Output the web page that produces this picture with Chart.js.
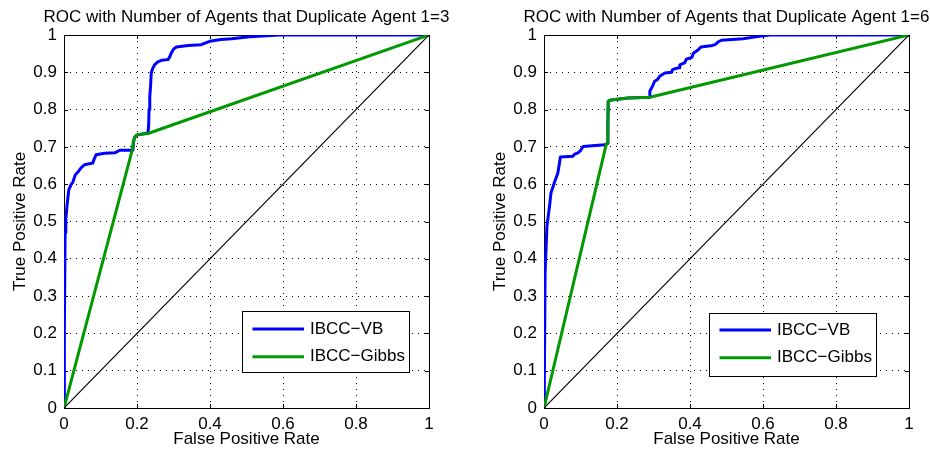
<!DOCTYPE html>
<html>
<head>
<meta charset="utf-8">
<script src="https://cdn.jsdelivr.net/npm/chart.js@4.4.1/dist/chart.umd.min.js"></script>
<style>
  body { margin: 0; background: #fff; }
  .panel { position: absolute; top: 0; width: 465px; height: 455px; }
</style>
</head>
<body>
<div class="panel" style="left:0"><canvas id="roc3" width="465" height="455"></canvas></div>
<div class="panel" style="left:465px"><canvas id="roc6" width="465" height="455"></canvas></div>
<script>
// values (false positive rate, true positive rate)
var vbFpr3 = [0, 0.001, 0.003, 0.005, 0.008, 0.013, 0.02, 0.024, 0.031, 0.04, 0.048, 0.056, 0.079, 0.083, 0.088, 0.111, 0.139, 0.153, 0.189, 0.19, 0.193, 0.2, 0.23, 0.232, 0.233, 0.235, 0.237, 0.239, 0.243, 0.248, 0.257, 0.267, 0.285, 0.29, 0.294, 0.3, 0.308, 0.34, 0.376, 0.399, 0.43, 0.459, 0.509, 0.591, 1];
var vbTpr3 = [0, 0.2, 0.47, 0.505, 0.54, 0.585, 0.6, 0.605, 0.625, 0.635, 0.645, 0.652, 0.657, 0.668, 0.679, 0.683, 0.684, 0.691, 0.691, 0.71, 0.725, 0.732, 0.737, 0.76, 0.8, 0.835, 0.86, 0.898, 0.91, 0.92, 0.928, 0.932, 0.934, 0.942, 0.952, 0.962, 0.968, 0.972, 0.974, 0.983, 0.988, 0.99, 0.995, 1, 1];
var gibbsFpr3 = [0, 0.187, 0.19, 0.195, 0.203, 0.23, 1];
var gibbsTpr3 = [0, 0.692, 0.715, 0.728, 0.733, 0.736, 1];

var vbFpr6 = [0, 0.001, 0.003, 0.008, 0.015, 0.019, 0.028, 0.038, 0.045, 0.079, 0.083, 0.093, 0.1, 0.107, 0.166, 0.172, 0.174, 0.175, 0.176, 0.184, 0.23, 0.288, 0.29, 0.297, 0.303, 0.31, 0.318, 0.331, 0.35, 0.352, 0.36, 0.37, 0.372, 0.385, 0.39, 0.405, 0.41, 0.422, 0.43, 0.462, 0.47, 0.478, 0.486, 0.545, 0.58, 0.618, 1];
var vbTpr6 = [0, 0.08, 0.362, 0.487, 0.54, 0.576, 0.603, 0.63, 0.673, 0.675, 0.68, 0.684, 0.69, 0.701, 0.706, 0.708, 0.71, 0.76, 0.822, 0.826, 0.831, 0.833, 0.85, 0.862, 0.876, 0.88, 0.89, 0.898, 0.9, 0.907, 0.91, 0.912, 0.92, 0.925, 0.935, 0.94, 0.952, 0.96, 0.968, 0.972, 0.975, 0.982, 0.986, 0.99, 0.995, 1, 1];
var gibbsFpr6 = [0, 0.17, 0.174, 0.175, 0.176, 0.184, 0.23, 0.29, 1];
var gibbsTpr6 = [0, 0.705, 0.71, 0.76, 0.822, 0.826, 0.831, 0.833, 1];

var chanceFpr = [0, 1];
var chanceTpr = [0, 1];

var seriesNames = ['IBCC\u2212VB', 'IBCC\u2212Gibbs'];
var titles = ['ROC with Number of Agents that Duplicate Agent 1=3', 'ROC with Number of Agents that Duplicate Agent 1=6'];

Chart.defaults.font.family = '"Liberation Sans", Arial, sans-serif';
Chart.defaults.font.size = 17;
Chart.defaults.color = '#000';

var toPoints = function (xs, ys) {
    return xs.map(function (x, i) { return { x: x, y: ys[i] }; });
};

var fmt = function (v) { return String(+v.toFixed(1)); };

// box, inner tick marks, title and legend in the MATLAB look
var frame = {
    id: 'frame',
    beforeDatasetsDraw: function (chart) {
        var ctx = chart.ctx, a = chart.chartArea;
        var xs = chart.scales.x, ys = chart.scales.y;
        ctx.save();
        ctx.strokeStyle = '#000';
        ctx.lineWidth = 1;
        ctx.beginPath();
        xs.ticks.forEach(function (t) {
            var px = Math.round(xs.getPixelForValue(t.value)) + 0.5;
            ctx.moveTo(px, a.bottom); ctx.lineTo(px, a.bottom - 4);
            ctx.moveTo(px, a.top); ctx.lineTo(px, a.top + 4);
        });
        ys.ticks.forEach(function (t) {
            var py = Math.round(ys.getPixelForValue(t.value)) + 0.5;
            ctx.moveTo(a.left, py); ctx.lineTo(a.left + 4, py);
            ctx.moveTo(a.right, py); ctx.lineTo(a.right - 4, py);
        });
        ctx.stroke();
        ctx.strokeRect(Math.round(a.left) + 0.5, Math.round(a.top) + 0.5,
            Math.round(a.right - a.left), Math.round(a.bottom - a.top));
        ctx.restore();
    },
    afterDraw: function (chart, args, opts) {
        var ctx = chart.ctx, a = chart.chartArea;
        ctx.save();
        ctx.fillStyle = '#000';
        ctx.font = '17px "Liberation Sans", Arial, sans-serif';
        ctx.textAlign = 'center';
        ctx.textBaseline = 'alphabetic';
        ctx.fillText(opts.title, (a.left + a.right) / 2, 22);

        var bx = a.right - opts.legRight - opts.legW;
        var by = a.bottom - opts.legBottom - opts.legH;
        ctx.fillStyle = '#fff';
        ctx.fillRect(bx, by, opts.legW, opts.legH);
        ctx.strokeStyle = '#000';
        ctx.lineWidth = 1;
        ctx.strokeRect(Math.round(bx) + 0.5, Math.round(by) + 0.5, Math.round(opts.legW), Math.round(opts.legH));
        ctx.textAlign = 'left';
        ctx.textBaseline = 'middle';
        seriesNames.forEach(function (name, i) {
            var d = chart.data.datasets.find(function (s) { return s.label === name; });
            var ly = by + 17.5 + i * 27.8;
            ctx.strokeStyle = d.borderColor;
            ctx.lineWidth = 3;
            ctx.beginPath();
            ctx.moveTo(bx + 10.5, ly);
            ctx.lineTo(bx + 62, ly);
            ctx.stroke();
            ctx.fillStyle = '#000';
            ctx.fillText(d.label, bx + 68, ly);
        });
        ctx.restore();
    }
};

var makeRoc = function (id, vb, gibbs, opts) {
    var ctx = document.getElementById(id).getContext('2d');
    return new Chart(ctx, {
        type: 'line',
        data: {
            datasets: [
                { label: '', data: toPoints(chanceFpr, chanceTpr), borderColor: '#000', borderWidth: 1.2 },
                { label: seriesNames[1], data: gibbs, borderColor: '#009a00', borderWidth: 3 },
                { label: seriesNames[0], data: vb, borderColor: '#0000ff', borderWidth: 3 }
            ]
        },
        options: {
            responsive: false,
            devicePixelRatio: 1,
            animation: false,
            events: [],
            elements: { point: { radius: 0 }, line: { tension: 0, fill: false, borderJoinStyle: 'round' } },
            layout: { padding: opts.padding },
            scales: {
                x: {
                    type: 'linear', min: 0, max: 1,
                    ticks: { stepSize: 0.2, padding: 6, maxRotation: 0, callback: fmt },
                    grid: { color: '#000', lineWidth: 1, drawTicks: false },
                    border: { display: false, dash: [1, 5] },
                    title: { display: true, text: 'False Positive Rate', padding: { top: 0, bottom: 5 } },
                    afterFit: function (s) { s.height = 47; }
                },
                y: {
                    type: 'linear', min: 0, max: 1,
                    ticks: { stepSize: 0.1, padding: 7, callback: fmt },
                    grid: { color: '#000', lineWidth: 1, drawTicks: false },
                    border: { display: false, dash: [1, 5] },
                    title: { display: true, text: 'True Positive Rate', padding: { top: 10, bottom: 0 } },
                    afterFit: function (s) { s.width = 64; }
                }
            },
            plugins: {
                legend: { display: false },
                tooltip: { enabled: false },
                frame: opts.frame
            }
        },
        plugins: [frame]
    });
};

makeRoc('roc3', toPoints(vbFpr3, vbTpr3), toPoints(gibbsFpr3, gibbsTpr3), {
    padding: { top: 35, left: 0, right: 36, bottom: 0 },
    frame: { title: titles[0], legW: 167, legH: 61, legRight: 20, legBottom: 35.6 }
});
makeRoc('roc6', toPoints(vbFpr6, vbTpr6), toPoints(gibbsFpr6, gibbsTpr6), {
    padding: { top: 35, left: 15, right: 21, bottom: 0 },
    frame: { title: titles[1], legW: 167, legH: 62.5, legRight: 33, legBottom: 33 }
});
</script>
</body>
</html>
